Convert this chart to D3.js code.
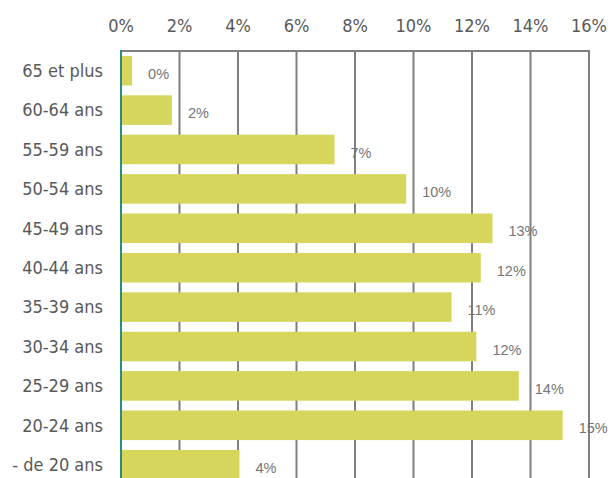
<!DOCTYPE html>
<html>
<head>
<meta charset="utf-8">
<script src="https://cdn.jsdelivr.net/npm/d3@7"></script>
<style>
  body { margin: 0; background: #fff; }
</style>
</head>
<body>
<div id="chart"></div>
<script>
// age groups, top to bottom
const categories = ["65 et plus", "60-64 ans", "55-59 ans", "50-54 ans", "45-49 ans", "40-44 ans",
                    "35-39 ans", "30-34 ans", "25-29 ans", "20-24 ans", "- de 20 ans"];
const values = [0.38, 1.74, 7.3, 9.75, 12.7, 12.3, 11.3, 12.15, 13.6, 15.1, 4.05];
const valueLabels = ["0%", "2%", "7%", "10%", "13%", "12%", "11%", "12%", "14%", "15%", "4%"];
const ticks = [0, 2, 4, 6, 8, 10, 12, 14, 16];

const width = 611, height = 478;
const plotLeft = 121, plotRight = 589, plotTop = 51;

const svg = d3.select("#chart")
    .append("svg")
    .attr("width", width)
    .attr("height", height);

const x = d3.scaleLinear().domain([0, 16]).range([plotLeft, plotRight]);
const y = d3.scaleBand()
    .domain(categories)
    .range([plotTop, plotTop + categories.length * 39.4])
    .paddingInner(0.25)
    .paddingOuter(0.125);

// gridlines
svg.append("g")
    .selectAll("line")
    .data(ticks.slice(1))
    .join("line")
    .attr("x1", d => x(d))
    .attr("x2", d => x(d))
    .attr("y1", plotTop)
    .attr("y2", height)
    .attr("stroke", "#7f7f7f")
    .attr("stroke-width", 2);

// top border
svg.append("line")
    .attr("x1", plotLeft).attr("x2", plotRight + 1)
    .attr("y1", plotTop).attr("y2", plotTop)
    .attr("stroke", "#7f7f7f")
    .attr("stroke-width", 2);

// tick labels
svg.append("g")
    .selectAll("text")
    .data(ticks)
    .join("text")
    .attr("x", d => x(d))
    .attr("y", 32)
    .attr("text-anchor", "middle")
    .style("font-family", "'DejaVu Sans Condensed', 'DejaVu Sans', sans-serif")
    .style("font-size", "18px")
    .style("fill", "#595959")
    .text(d => d + "%");

// bars
svg.append("g")
    .selectAll("rect")
    .data(values)
    .join("rect")
    .attr("x", x(0))
    .attr("y", (d, i) => y(categories[i]))
    .attr("width", d => x(d) - x(0))
    .attr("height", y.bandwidth())
    .attr("fill", "#d6d55c");

// value labels
svg.append("g")
    .selectAll("text")
    .data(values)
    .join("text")
    .attr("x", d => x(d) + 16)
    .attr("y", (d, i) => y(categories[i]) + y.bandwidth() / 2 + 8)
    .style("font-family", "'Liberation Sans', Arial, sans-serif")
    .style("font-size", "14.5px")
    .style("fill", "#767676")
    .text((d, i) => valueLabels[i]);

// left axis line
svg.append("line")
    .attr("x1", x(0)).attr("x2", x(0))
    .attr("y1", plotTop - 1).attr("y2", height)
    .attr("stroke", "#2e8b80")
    .attr("stroke-width", 2);

// category labels
svg.append("g")
    .selectAll("text")
    .data(categories)
    .join("text")
    .attr("x", 103)
    .attr("y", d => y(d) + y.bandwidth() / 2)
    .attr("dy", "0.35em")
    .attr("text-anchor", "end")
    .style("font-family", "'DejaVu Sans Condensed', 'DejaVu Sans', sans-serif")
    .style("font-size", "18px")
    .style("fill", "#595959")
    .text(d => d);
</script>
</body>
</html>
